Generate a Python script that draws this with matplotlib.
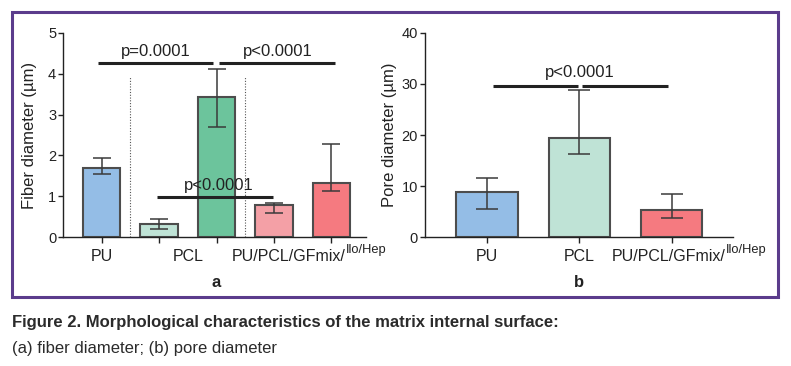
import numpy as np
import matplotlib
matplotlib.use("Agg")
import matplotlib.pyplot as plt
from matplotlib.patches import Rectangle

plt.rcParams['font.family'] = ['Liberation Sans', 'DejaVu Sans']

# data #

fiber_mean = [1.70, 0.32, 3.44, 0.79, 1.33]
fiber_low = [1.54, 0.20, 2.70, 0.60, 1.14]
fiber_high = [1.95, 0.45, 4.12, 0.85, 2.28]
fiber_colors = ['#94bde6', '#bfe3d6', '#6cc49c', '#f4a0a6', '#f57a80']

pore_mean = [8.9, 19.5, 5.35]
pore_low = [5.5, 16.3, 3.85]
pore_high = [11.65, 28.8, 8.45]
pore_colors = ['#94bde6', '#bfe3d6', '#f57a80']

group_labels = ['PU', 'PCL', 'PU/PCL/GFmix/']
group_sup = 'Ilo/Hep'

edge = '#4d4d4d'
dark = '#222222'


def style_axis(ax):
    for s in ['top', 'right']:
        ax.spines[s].set_visible(False)
    for s in ['left', 'bottom']:
        ax.spines[s].set_color(dark)
        ax.spines[s].set_linewidth(1.0)
    ax.tick_params(axis='both', length=3.6, width=1.0, color=dark, labelsize=10.5,
                   pad=1.5, labelcolor=dark)
    ax.tick_params(axis='x', length=4.5, labelbottom=False)


def sig_line(ax, x0, x1, y, text=None, tx=None, ty=None):
    ax.plot([x0, x1], [y, y], color=dark, lw=2.2, solid_capstyle='butt', clip_on=False)
    if text:
        ax.text(tx, ty, text, ha='center', va='center', fontsize=12, color=dark)


def group_text(ax, centers, third_x):
    tr = ax.get_xaxis_transform()
    ax.text(centers[0], -0.093, group_labels[0], transform=tr, ha='center', va='center',
            fontsize=11.5, color=dark)
    ax.text(centers[1], -0.093, group_labels[1], transform=tr, ha='center', va='center',
            fontsize=11.5, color=dark)
    t = ax.text(third_x, -0.093, group_labels[2], transform=tr, ha='left', va='center',
                fontsize=11.5, color=dark)
    ax.annotate(group_sup, xy=(1.0, 0.95), xycoords=t, ha='left', va='center',
                fontsize=9.3, color=dark)


fig = plt.figure(figsize=(7.91, 3.66), dpi=100)

# panel a #

ax1 = fig.add_axes([0.0800, 0.3516, 0.3823, 0.559])
x1 = np.arange(len(fiber_mean))
m1 = np.array(fiber_mean)
ax1.bar(x1, m1, width=0.65, color=fiber_colors, edgecolor=edge, linewidth=1.5, zorder=2)
ax1.errorbar(x1, m1, yerr=[m1 - np.array(fiber_low), np.array(fiber_high) - m1],
             fmt='none', ecolor='#3a3a3a', elinewidth=1.1, capsize=6.5, capthick=1.1, zorder=3)
ax1.set_xlim(-0.668, 4.595)
ax1.set_ylim(0, 5)
ax1.set_yticks([0, 1, 2, 3, 4, 5])
ax1.set_xticks(x1)
style_axis(ax1)
for xv in [0.5, 2.5]:
    ax1.plot([xv, xv], [0, 3.95], color='#555555', lw=0.8, ls=(0, (1, 1.5)), zorder=1)
sig_line(ax1, -0.07, 1.94, 4.25, 'p=0.0001', 0.94, 4.53)
sig_line(ax1, 2.05, 4.06, 4.25, 'p<0.0001', 3.06, 4.53)
sig_line(ax1, 0.957, 2.98, 0.98, 'p<0.0001', 2.04, 1.26)
ax1.set_ylabel('Fiber diameter (µm)', fontsize=12, color=dark)
ax1.yaxis.set_label_coords(-0.087, 0.5)
group_text(ax1, [0, 1.5], 2.27)
ax1.text(2.0, -0.223, 'a', transform=ax1.get_xaxis_transform(), ha='center', va='center',
         fontsize=12, fontweight='bold', color=dark)

# panel b #

ax2 = fig.add_axes([0.5373, 0.3516, 0.3894, 0.559])
x2 = np.arange(len(pore_mean))
m2 = np.array(pore_mean)
ax2.bar(x2, m2, width=0.66, color=pore_colors, edgecolor=edge, linewidth=1.5, zorder=2)
ax2.errorbar(x2, m2, yerr=[m2 - np.array(pore_low), np.array(pore_high) - m2],
             fmt='none', ecolor='#3a3a3a', elinewidth=1.1, capsize=7.8, capthick=1.1, zorder=3)
ax2.set_xlim(-0.67, 2.66)
ax2.set_ylim(0, 40)
ax2.set_yticks([0, 10, 20, 30, 40])
ax2.set_xticks(x2)
style_axis(ax2)
sig_line(ax2, 0.07, 0.98, 29.6)
sig_line(ax2, 1.03, 1.96, 29.6, 'p<0.0001', 1.0, 32.3)
ax2.set_ylabel('Pore diameter (µm)', fontsize=12, color=dark)
ax2.yaxis.set_label_coords(-0.091, 0.5)
group_text(ax2, [0, 1], 1.348)
ax2.text(1.0, -0.223, 'b', transform=ax2.get_xaxis_transform(), ha='center', va='center',
         fontsize=12, fontweight='bold', color=dark)

# frame and caption #

fig.patches.append(Rectangle((0.01517, 0.1885), 0.9684, 0.7787, transform=fig.transFigure,
                             fill=False, edgecolor='#5b3c8c', linewidth=2.2))
fig.text(0.0158, 0.1057, 'Figure 2. Morphological characteristics of the matrix internal surface:',
         ha='left', va='baseline', fontsize=12, fontweight='bold', color='#2b2b2b')
fig.text(0.0158, 0.0355, '(a) fiber diameter; (b) pore diameter',
         ha='left', va='baseline', fontsize=12, color='#2b2b2b')

fig.savefig('out.png', dpi=100)
